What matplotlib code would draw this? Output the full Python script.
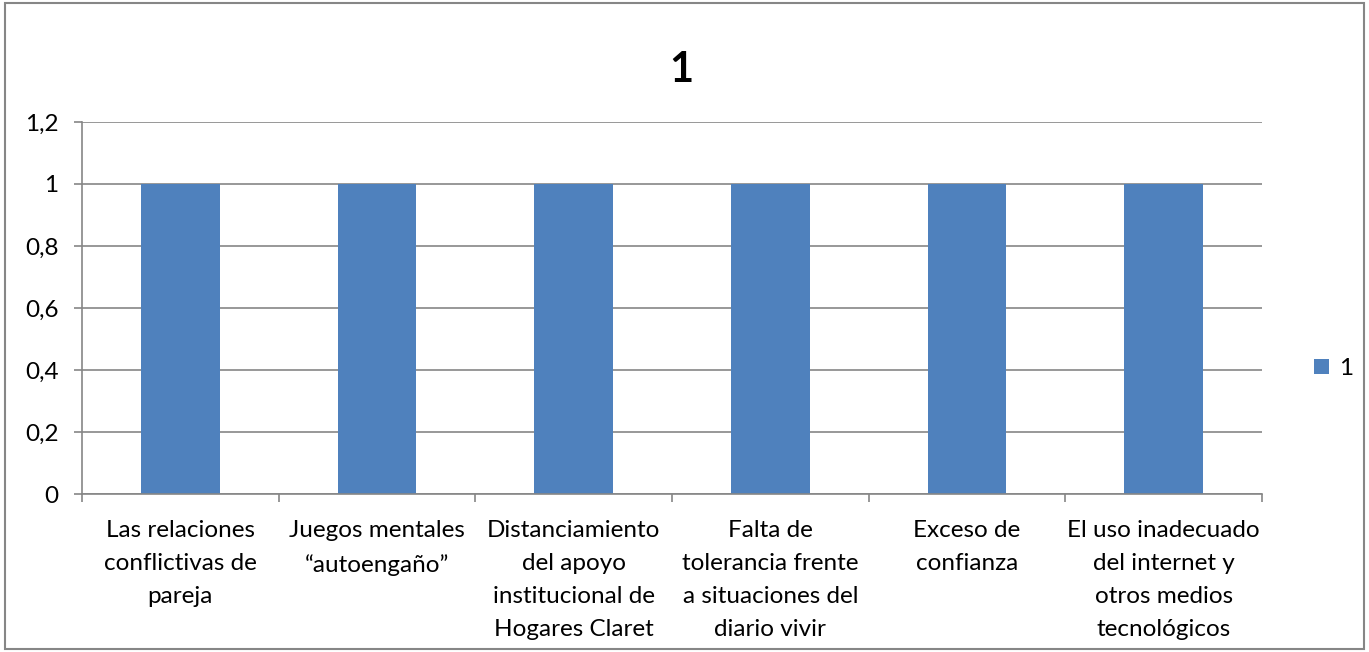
import matplotlib
matplotlib.use("Agg")
import matplotlib.pyplot as plt
from matplotlib.patches import Rectangle
from matplotlib.ticker import FixedLocator, FuncFormatter

categories = [
    "Las relaciones\nconflictivas de\npareja",
    "Juegos mentales\n\u201cautoengaño\u201d",
    "Distanciamiento\ndel apoyo\ninstitucional de\nHogares Claret",
    "Falta de\ntolerancia frente\na situaciones del\ndiario vivir",
    "Exceso de\nconfianza",
    "El uso inadecuado\ndel internet y\notros medios\ntecnológicos",
]
values = [1, 1, 1, 1, 1, 1]
series_name = "1"
chart_title = "1"
y_ticks = [0, 0.2, 0.4, 0.6, 0.8, 1.0, 1.2]

bar_color = "#4F81BD"
axis_color = "#868686"
font = ["Lato", "DejaVu Sans"]

plt.rcParams["font.family"] = font

fig = plt.figure(figsize=(13.69, 6.52), dpi=100)
ax = fig.add_axes([0.0599, 0.2423, 0.8619, 0.5706])

x = list(range(len(categories)))
ax.bar(x, values, width=0.4, color=bar_color, zorder=3, label=series_name)

ax.set_xlim(-0.5, len(categories) - 0.5)
ax.set_ylim(0, 1.2)
ax.yaxis.set_major_locator(FixedLocator(y_ticks))
ax.yaxis.set_major_formatter(FuncFormatter(lambda v, p: (f"{v:.1f}".rstrip("0").rstrip(".")).replace(".", ",")))
ax.grid(axis="y", color=axis_color, linewidth=1.2, zorder=0)

# category labels centred between boundary tick marks
ax.set_xticks(x)
ax.set_xticklabels(categories, fontsize=17.5, linespacing=1.7)
ax.tick_params(axis="x", which="major", length=0, pad=19)
ax.set_xticks([i - 0.5 for i in range(len(categories) + 1)], minor=True)
ax.tick_params(axis="x", which="minor", length=6, width=1.2, color=axis_color, direction="out")
ax.tick_params(axis="y", length=6, width=1.2, color=axis_color, direction="out", labelsize=17.5, pad=11)

for side in ("top", "right"):
    ax.spines[side].set_visible(False)
for side in ("left", "bottom"):
    ax.spines[side].set_color(axis_color)
    ax.spines[side].set_linewidth(1.2)
    ax.spines[side].set_zorder(4)

fig.text(0.4975, 0.893, chart_title, ha="center", va="center", fontsize=30, fontweight="bold")

leg = fig.legend(loc="center left", bbox_to_anchor=(0.953, 0.435), frameon=False,
                 fontsize=17.5, handlelength=0.6, handleheight=0.6, handletextpad=0.4,
                 borderaxespad=0)

# outer chart border
fig.patches.append(Rectangle((0.004, 0.004), 0.992, 0.992, transform=fig.transFigure,
                             fill=False, edgecolor="#868686", linewidth=1.5))

fig.savefig("out.png", dpi=100)
